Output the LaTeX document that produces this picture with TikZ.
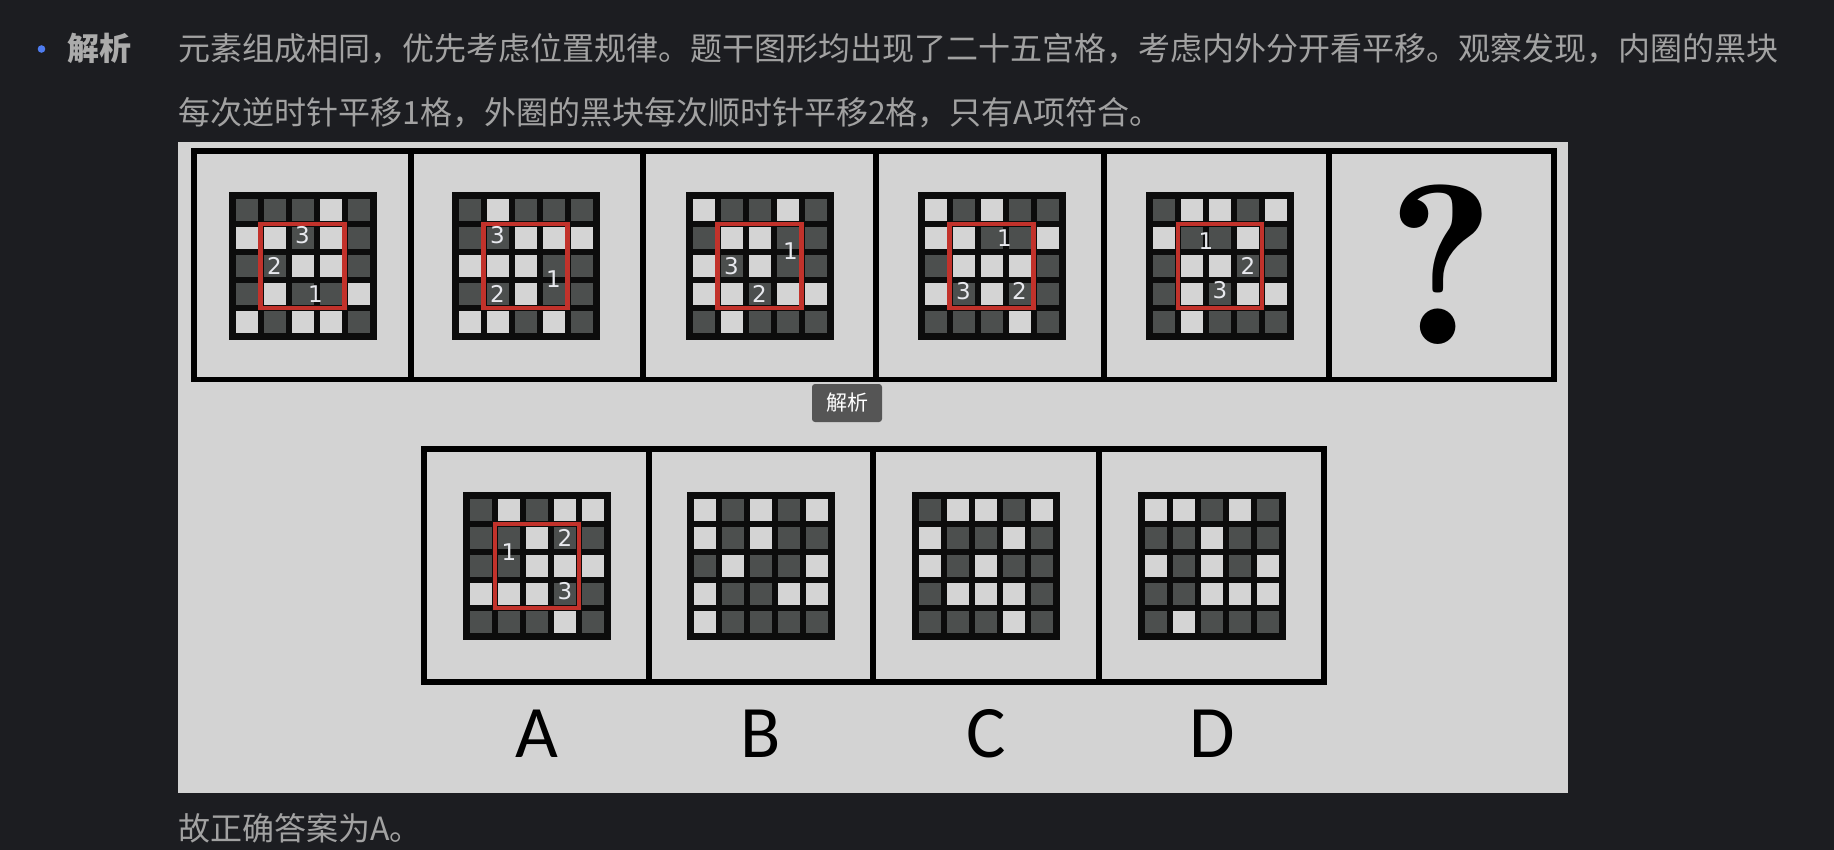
\documentclass[tikz,border=0pt]{standalone}
\usepackage{fontspec}
\newfontfamily\cjk{Noto Sans CJK SC}
\newfontfamily\optfont{Carlito}
\newfontfamily\qfont{lmromandemi10-regular.otf}
\newfontfamily\digitfont{DejaVu Sans}
\definecolor{pagebg}{HTML}{1C1D21}
\definecolor{panelbg}{HTML}{D3D3D3}
\definecolor{bodytext}{HTML}{A2A2A2}
\definecolor{labeltext}{HTML}{ABABAB}
\definecolor{bulletblue}{HTML}{4E7CF0}
\definecolor{gridblack}{HTML}{0C0C0C}
\definecolor{cell0}{HTML}{D4D4D4}
\definecolor{cell1}{HTML}{4C4F4E}
\definecolor{boxred}{HTML}{C2322B}
\definecolor{numwhite}{HTML}{E8E9EE}
\definecolor{tipgray}{HTML}{555555}

\newcommand{\gridpic}[4]{%
	\begin{scope}[shift={#2}]
		\node[gridbg] (#1) at (0,0) {};
		\foreach \cells [count=\rw] in {#3} {
			\foreach \val [count=\cl] in \cells
				\node[cellbox, fill=cell\val] (#1-\rw-\cl) at ({(\cl-3)*28},{(\rw-3)*28}) {};
		}
		#4
	\end{scope}}

\begin{document}
\begin{tikzpicture}[x=0.5pt, y=-0.5pt,
			gridbg/.style={fill=gridblack, minimum size=74pt, inner sep=0pt},
			cellbox/.style={minimum size=11pt, inner sep=0pt},
			redbox/.style={draw=boxred, line width=2.4pt},
			numtxt/.style={text=numwhite, inner sep=0pt, font=\digitfont\fontsize{11.5}{12}\selectfont},
			frame/.style={draw=black, line width=2.7pt},
			bodyline/.style={anchor=base west, inner sep=0pt, text=bodytext, font=\cjk\fontsize{16}{20}\selectfont},
			optlabel/.style={anchor=base, inner sep=0pt, font=\optfont\fontsize{37}{40}\selectfont}
		]
		\useasboundingbox (0,0) rectangle (1834,850);
		\fill[pagebg] (0,0) rectangle (1834,850);

		\node[circle, fill=bulletblue, minimum size=3.8pt, inner sep=0pt] (dot) at (41.5,49) {};
		\node[bodyline, text=labeltext, font=\cjk\bfseries\fontsize{16}{20}\selectfont] (jiexi) at (67,61) {解析};
		\node[bodyline] (line1) at (178,61) {元素组成相同，优先考虑位置规律。题干图形均出现了二十五宫格，考虑内外分开看平移。观察发现，内圈的黑块};
		\node[bodyline] (line2) at (178,125) {每次逆时针平移1格，外圈的黑块每次顺时针平移2格，只有A项符合。};
		\node[bodyline] (answer) at (178,840) {故正确答案为A。};

		\fill[panelbg] (178,142) rectangle (1568,793);

		% question row
		\draw[frame] (194,151) rectangle (1554,379.5);
		\draw[frame] (411,151) -- (411,379.5);
		\draw[frame] (643,151) -- (643,379.5);
		\draw[frame] (876,151) -- (876,379.5);
		\draw[frame] (1104,151) -- (1104,379.5);
		\draw[frame] (1329,151) -- (1329,379.5);

		\gridpic{g1}{(302.5,266)}{{1,1,1,0,1},{0,0,1,0,1},{1,1,0,0,1},{1,0,1,1,0},{0,1,0,0,1}}{
			\draw[redbox] (-42,-42) rectangle (42,42);
			\node[numtxt] (g1n3) at (0,-31) {3};
			\node[numtxt] (g1n2) at (-28,0) {2};
			\node[numtxt] (g1n1) at (13,28) {1};
		}
		\gridpic{g2}{(525.5,266)}{{1,0,1,1,1},{1,1,0,0,0},{0,0,0,1,1},{1,1,0,1,1},{0,0,1,0,1}}{
			\draw[redbox] (-42,-42) rectangle (42,42);
			\node[numtxt] (g2n3) at (-28,-31) {3};
			\node[numtxt] (g2n1) at (28,13) {1};
			\node[numtxt] (g2n2) at (-28,28) {2};
		}
		\gridpic{g3}{(759.5,266)}{{0,1,1,0,1},{1,0,0,1,1},{0,1,0,1,1},{0,0,1,0,0},{1,0,1,1,1}}{
			\draw[redbox] (-42,-42) rectangle (42,42);
			\node[numtxt] (g3n1) at (31,-15) {1};
			\node[numtxt] (g3n3) at (-28,0) {3};
			\node[numtxt] (g3n2) at (0,28) {2};
		}
		\gridpic{g4}{(991.5,266)}{{0,1,0,1,1},{0,0,1,1,0},{1,0,0,0,1},{0,1,0,1,1},{1,1,1,0,1}}{
			\draw[redbox] (-42,-42) rectangle (42,42);
			\node[numtxt] (g4n1) at (13,-28) {1};
			\node[numtxt] (g4n3) at (-28,25) {3};
			\node[numtxt] (g4n2) at (28,25) {2};
		}
		\gridpic{g5}{(1220,266)}{{1,0,0,1,0},{0,1,1,0,1},{1,0,0,1,1},{1,0,1,0,0},{1,0,1,1,1}}{
			\draw[redbox] (-42,-42) rectangle (42,42);
			\node[numtxt] (g5n1) at (-14,-25) {1};
			\node[numtxt] (g5n2) at (28,0) {2};
			\node[numtxt] (g5n3) at (0,24) {3};
		}
		\node[inner sep=0pt, font=\qfont\fontsize{114}{120}\selectfont] (qmark) at (1441.5,265) {?};

		% options row
		\draw[frame] (424,449) rectangle (1324,682);
		\draw[frame] (649,449) -- (649,682);
		\draw[frame] (873,449) -- (873,682);
		\draw[frame] (1099,449) -- (1099,682);

		\gridpic{gA}{(537,566)}{{1,0,1,0,0},{1,1,0,1,1},{1,1,0,0,0},{0,0,0,1,1},{1,1,1,0,1}}{
			\draw[redbox] (-42,-42) rectangle (42,42);
			\node[numtxt] (gAn1) at (-28,-14) {1};
			\node[numtxt] (gAn2) at (28,-28) {2};
			\node[numtxt] (gAn3) at (28,25) {3};
		}
		\gridpic{gB}{(761,566)}{{0,1,0,1,0},{0,1,0,1,1},{1,0,1,1,0},{0,1,1,0,0},{0,1,1,1,1}}{}
		\gridpic{gC}{(986,566)}{{1,0,0,1,0},{0,1,1,0,1},{0,1,0,1,1},{1,0,0,0,1},{1,1,1,0,1}}{}
		\gridpic{gD}{(1212,566)}{{0,0,1,0,1},{1,1,0,1,1},{0,1,0,1,0},{1,1,0,0,0},{1,0,1,1,1}}{}

		\node[optlabel] (optA) at (537,757) {A};
		\node[optlabel] (optB) at (761,757) {B};
		\node[optlabel] (optC) at (986,757) {C};
		\node[optlabel] (optD) at (1212,757) {D};

		\node[fill=tipgray, rounded corners=1.5pt, minimum width=35pt, minimum height=19pt, inner sep=0pt, text=white, font=\cjk\fontsize{10.5}{12}\selectfont] (tip) at (847,403) {解析};
	\end{tikzpicture}
\end{document}
